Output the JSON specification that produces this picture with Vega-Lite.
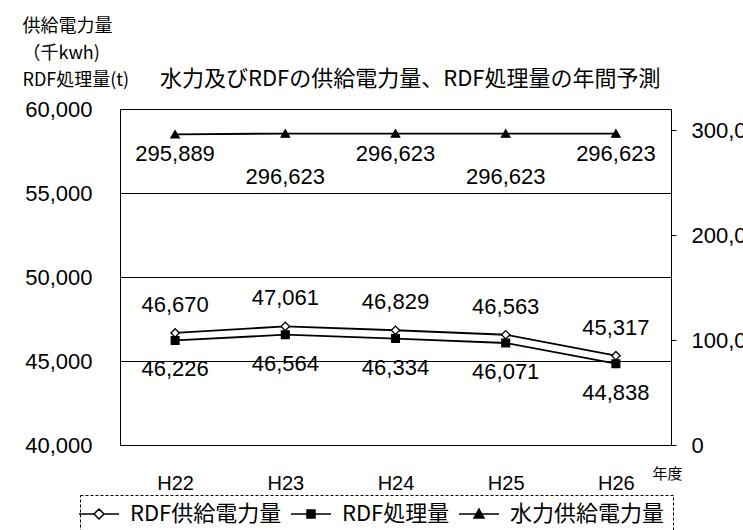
{
  "$schema": "https://vega.github.io/schema/vega-lite/v6.json",
  "width": 551,
  "height": 336,
  "autosize": {"type": "none"},
  "padding": {"left": 120, "top": 109, "right": 72, "bottom": 85},
  "background": "white",
  "title": {
    "text": "水力及びRDFの供給電力量、RDF処理量の年間予測",
    "anchor": "start",
    "frame": "group",
    "dx": 40,
    "dy": 92,
    "offset": 18,
    "fontSize": 22,
    "font": "Noto Sans CJK JP",
    "fontWeight": "normal",
    "color": "black"
  },
  "data": {
    "values": [
      {"year": "H22", "series": "RDF供給電力量", "value": 46670},
      {"year": "H23", "series": "RDF供給電力量", "value": 47061},
      {"year": "H24", "series": "RDF供給電力量", "value": 46829},
      {"year": "H25", "series": "RDF供給電力量", "value": 46563},
      {"year": "H26", "series": "RDF供給電力量", "value": 45317},
      {"year": "H22", "series": "RDF処理量", "value": 46226},
      {"year": "H23", "series": "RDF処理量", "value": 46564},
      {"year": "H24", "series": "RDF処理量", "value": 46334},
      {"year": "H25", "series": "RDF処理量", "value": 46071},
      {"year": "H26", "series": "RDF処理量", "value": 44838},
      {"year": "H22", "series": "水力供給電力量", "value": 295889},
      {"year": "H23", "series": "水力供給電力量", "value": 296623},
      {"year": "H24", "series": "水力供給電力量", "value": 296623},
      {"year": "H25", "series": "水力供給電力量", "value": 296623},
      {"year": "H26", "series": "水力供給電力量", "value": 296623}
    ]
  },
  "encoding": {
    "x": {
      "field": "year",
      "type": "nominal",
      "sort": ["H22", "H23", "H24", "H25", "H26"],
      "scale": {"type": "point", "padding": 0.5},
      "axis": {
        "labelAngle": 0,
        "labelFont": "Liberation Sans",
        "labelFontSize": 20,
        "labelColor": "black",
        "labelPadding": 28,
        "ticks": false,
        "domain": false,
        "grid": false,
        "title": "年度",
        "titleFont": "Noto Sans CJK JP",
        "titleFontSize": 15,
        "titleFontWeight": "normal",
        "titleColor": "black",
        "titleAlign": "center",
        "titleBaseline": "middle",
        "titleX": 547,
        "titleY": 28
      }
    }
  },
  "layer": [
    {
      "transform": [{"filter": "datum.series !== '水力供給電力量'"}],
      "encoding": {
        "y": {
          "field": "value",
          "type": "quantitative",
          "scale": {"domain": [40000, 60000], "nice": false, "zero": false},
          "axis": {
            "orient": "left",
            "values": [40000, 45000, 50000, 55000, 60000],
            "format": ",.0f",
            "labelFont": "Liberation Sans",
            "labelFontSize": 22,
            "labelColor": "black",
            "labelPadding": 28,
            "ticks": false,
            "domain": false,
            "grid": true,
            "gridColor": "black",
            "gridWidth": 1,
            "gridOpacity": 1,
            "title": ["供給電力量", "（千kwh)", "RDF処理量(t)"],
            "titleAngle": 0,
            "titleAlign": "left",
            "titleBaseline": "top",
            "titleX": -98,
            "titleY": -92,
            "titleLineHeight": 27,
            "titleFont": "Noto Sans CJK JP",
            "titleFontSize": 18,
            "titleFontWeight": "normal",
            "titleColor": "black"
          }
        }
      },
      "layer": [
        {
          "mark": {"type": "line", "strokeWidth": 1.8},
          "encoding": {
            "color": {
              "field": "series",
              "type": "nominal",
              "scale": {"domain": ["RDF供給電力量", "RDF処理量", "水力供給電力量"], "range": ["black", "black", "black"]},
              "legend": {
                "title": null,
                "orient": "none",
                "legendX": -40,
                "legendY": 386,
                "direction": "horizontal",
                "labelFont": "Noto Sans CJK JP",
                "labelFontSize": 22,
                "labelColor": "black",
                "labelLimit": 0,
                "labelOffset": 20,
                "symbolSize": 100,
                "symbolStrokeWidth": 1.5,
                "columnPadding": 6,
                "padding": 8,
                "strokeColor": "black",
                "encode": {
                  "legend": {"update": {"strokeDash": {"value": [3, 2]}}},
                  "symbols": {"update": {
                    "shape": {"signal": "datum.value === 'RDF供給電力量' ? 'M-4,0H-1M1,0H4M0,-1L1,0L0,1L-1,0Z' : (datum.value === 'RDF処理量' ? 'M-4,0H4M-0.8,-0.8H0.8V0.8H-0.8Z' : 'M-4,0H4M0,-1L1,0.8L-1,0.8Z')"},
                    "fill": {"signal": "datum.value === 'RDF供給電力量' ? 'white' : 'black'"},
                    "stroke": {"value": "black"},
                    "strokeWidth": {"value": 1.5}
                  }}
                }
              }
            }
          }
        },
        {
          "transform": [{"filter": "datum.series === 'RDF供給電力量'"}],
          "mark": {"type": "point", "shape": "diamond", "filled": true, "fill": "white", "stroke": "black", "strokeWidth": 1.3, "size": 70, "opacity": 1}
        },
        {
          "transform": [{"filter": "datum.series === 'RDF処理量'"}],
          "mark": {"type": "point", "shape": "square", "filled": true, "fill": "black", "stroke": "black", "strokeWidth": 1.3, "size": 60, "opacity": 1}
        },
        {
          "transform": [{"filter": "datum.series === 'RDF供給電力量'"}],
          "mark": {"type": "text", "dy": -28, "font": "Liberation Sans", "fontSize": 22, "color": "black"},
          "encoding": {"text": {"field": "value", "type": "quantitative", "format": ",.0f"}}
        },
        {
          "transform": [{"filter": "datum.series === 'RDF処理量'"}],
          "mark": {"type": "text", "dy": 29, "font": "Liberation Sans", "fontSize": 22, "color": "black"},
          "encoding": {"text": {"field": "value", "type": "quantitative", "format": ",.0f"}}
        }
      ]
    },
    {
      "transform": [{"filter": "datum.series === '水力供給電力量'"}],
      "encoding": {
        "y": {
          "field": "value",
          "type": "quantitative",
          "scale": {"domain": [0, 320000], "nice": false},
          "axis": {
            "orient": "right",
            "values": [0, 100000, 200000, 300000],
            "format": ",.0f",
            "labelFont": "Liberation Sans",
            "labelFontSize": 22,
            "labelColor": "black",
            "labelPadding": 15,
            "ticks": true,
            "tickSize": 5,
            "tickColor": "black",
            "domain": false,
            "grid": false,
            "title": null
          }
        }
      },
      "layer": [
        {
          "mark": {"type": "line", "strokeWidth": 1.8},
          "encoding": {
            "color": {
              "field": "series",
              "type": "nominal",
              "legend": {
                "title": null,
                "orient": "none",
                "legendX": -40,
                "legendY": 386,
                "direction": "horizontal",
                "labelFont": "Noto Sans CJK JP",
                "labelFontSize": 22,
                "labelColor": "black",
                "labelLimit": 0,
                "labelOffset": 20,
                "symbolSize": 100,
                "symbolStrokeWidth": 1.5,
                "columnPadding": 6,
                "padding": 8,
                "strokeColor": "black",
                "encode": {
                  "legend": {"update": {"strokeDash": {"value": [3, 2]}}},
                  "symbols": {"update": {
                    "shape": {"signal": "datum.value === 'RDF供給電力量' ? 'M-4,0H-1M1,0H4M0,-1L1,0L0,1L-1,0Z' : (datum.value === 'RDF処理量' ? 'M-4,0H4M-0.8,-0.8H0.8V0.8H-0.8Z' : 'M-4,0H4M0,-1L1,0.8L-1,0.8Z')"},
                    "fill": {"signal": "datum.value === 'RDF供給電力量' ? 'white' : 'black'"},
                    "stroke": {"value": "black"},
                    "strokeWidth": {"value": 1.5}
                  }}
                }
              }
            }
          }
        },
        {
          "mark": {"type": "point", "shape": "triangle-up", "filled": true, "fill": "black", "stroke": "black", "strokeWidth": 1.3, "size": 70, "opacity": 1}
        },
        {
          "transform": [{"filter": "datum.year === 'H22' || datum.year === 'H24' || datum.year === 'H26'"}],
          "mark": {"type": "text", "dy": 20, "font": "Liberation Sans", "fontSize": 22, "color": "black"},
          "encoding": {"text": {"field": "value", "type": "quantitative", "format": ",.0f"}}
        },
        {
          "transform": [{"filter": "datum.year === 'H23' || datum.year === 'H25'"}],
          "mark": {"type": "text", "dy": 43, "font": "Liberation Sans", "fontSize": 22, "color": "black"},
          "encoding": {"text": {"field": "value", "type": "quantitative", "format": ",.0f"}}
        }
      ]
    }
  ],
  "resolve": {"scale": {"y": "independent"}},
  "config": {
    "view": {"stroke": "black", "strokeWidth": 1}
  }
}
